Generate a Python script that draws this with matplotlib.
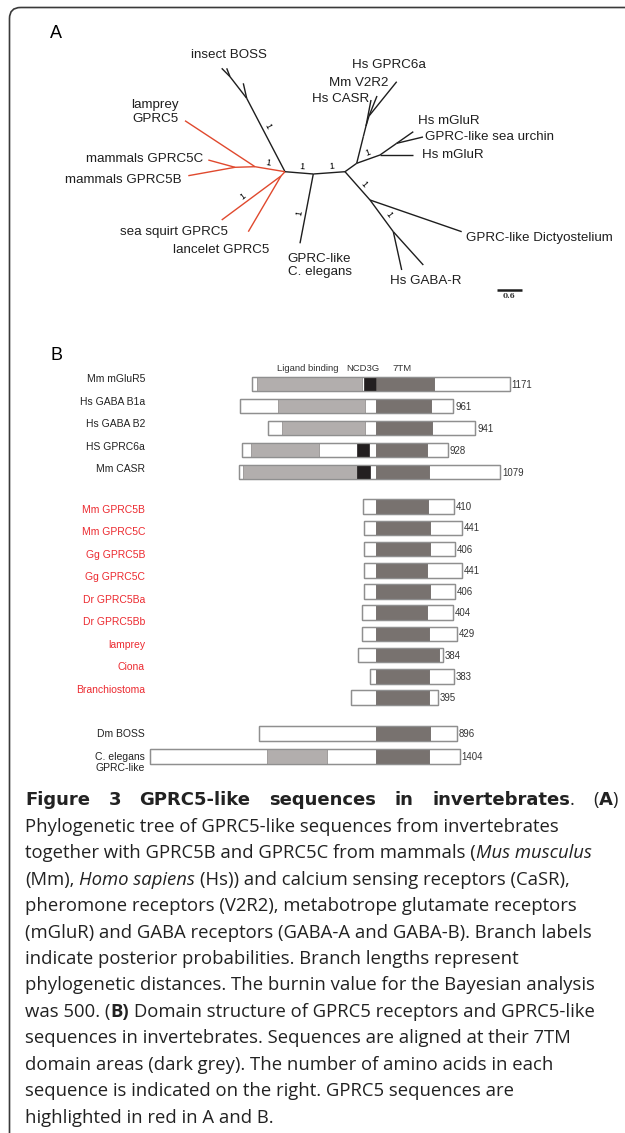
import math
import matplotlib
matplotlib.use('Agg')
import matplotlib.pyplot as plt
from matplotlib.patches import Rectangle, FancyBboxPatch

# ---------------- panel A : phylogenetic tree ----------------
# node positions of the drawn (unrooted) tree, in drawing units
tree_nodes = {
    'root': (285, 171.7),
    'boss1': (246.7, 98.3), 'boss2': (230, 76.7),
    'bossA': (243.3, 83.3), 'bossB': (226.7, 68.3), 'bossC': (221.7, 68.3),
    'na': (255, 166.7), 'lamprey': (185, 120.7),
    'nm': (235, 167.3), 'm5c': (208.3, 160), 'm5b': (188.3, 175.7),
    'ns': (281, 176), 'seasq': (221.7, 220), 'lanc': (248.3, 231.7),
    'nc': (313.3, 174), 'cel': (300, 243.3),
    'nr': (345, 171.7), 'nu': (356.7, 163.3),
    'nca': (363.3, 136.7), 'ncb': (366, 126), 'casr': (371, 100),
    'ncc': (369, 116), 'v2r2': (377, 96), 'gprc6a': (396.7, 81.7),
    'nmg': (380, 155), 'nmg2': (396.7, 143.3),
    'mglu1': (413.3, 131.7), 'urchin': (423, 137), 'mglu2': (413, 155),
    'nd': (370, 200), 'dicty': (461.7, 231.7),
    'ng': (393.3, 231.7), 'gaba1': (401.7, 270), 'gaba2': (423.3, 265),
}
# (parent, child, GPRC5 branch?)
tree_edges = [
    ('root', 'boss1', False), ('boss1', 'bossA', False), ('boss1', 'boss2', False),
    ('boss2', 'bossB', False), ('boss2', 'bossC', False),
    ('root', 'na', True), ('na', 'lamprey', True), ('na', 'nm', True),
    ('nm', 'm5c', True), ('nm', 'm5b', True),
    ('root', 'ns', True), ('ns', 'seasq', True), ('ns', 'lanc', True),
    ('root', 'nc', False), ('nc', 'cel', False), ('nc', 'nr', False),
    ('nr', 'nu', False), ('nu', 'nca', False), ('nca', 'ncb', False),
    ('ncb', 'casr', False), ('ncb', 'ncc', False), ('ncc', 'v2r2', False),
    ('ncc', 'gprc6a', False),
    ('nu', 'nmg', False), ('nmg', 'nmg2', False), ('nmg2', 'mglu1', False),
    ('nmg2', 'urchin', False), ('nmg', 'mglu2', False),
    ('nr', 'nd', False), ('nd', 'dicty', False), ('nd', 'ng', False),
    ('ng', 'gaba1', False), ('ng', 'gaba2', False),
]
# branches with posterior probability labels
posterior_edges = [('root', 'boss1'), ('root', 'na'), ('root', 'nc'), ('nc', 'nr'),
                   ('ns', 'seasq'), ('nc', 'cel'), ('nu', 'nmg'), ('nr', 'nd'),
                   ('nd', 'ng')]
posterior_values = ['1'] * len(posterior_edges)
tip_labels = ['insect BOSS', 'lamprey\nGPRC5', 'mammals GPRC5C', 'mammals GPRC5B',
              'sea squirt GPRC5', 'lancelet GPRC5', 'GPRC-like\nC. elegans',
              'Hs GPRC6a', 'Mm V2R2', 'Hs CASR', 'Hs mGluR', 'GPRC-like sea urchin',
              'Hs mGluR', 'GPRC-like Dictyostelium', 'Hs GABA-R']

# ---------------- panel B : domain structure ----------------
# positions in amino acids relative to the start of the 7TM domain
seq_start = [-561, -613, -489, -604, -618,
             -55, -52, -51, -51, -51, -60, -61, -78, -25, -111,
             -528, -1021]
seq_end = [610, 353, 453, 327, 565,
           356, 391, 361, 394, 361, 353, 368, 305, 357, 285,
           370, 382]
tm_start = [0, 2, 0, 2, 0,
            2, 2, 2, 2, 2, 2, 0, 0, 2, 2,
            0, 0]
tm_end = [265, 250, 256, 235, 244,
          238, 247, 247, 235, 247, 235, 244, 288, 241, 244,
          247, 244]
ligand = [(-536, -63), (-441, -48), (-423, -48), (-566, -258), (-600, -85),
          None, None, None, None, None, None, None, None, None, None,
          None, (-491, -222)]
ncd3g = [(-52, 0), None, None, (-85, -28), (-85, -25)] + [None] * 12
aa_count = [1171, 961, 941, 928, 1079,
            410, 441, 406, 441, 406, 404, 429, 384, 383, 395,
            896, 1404]
names_top = ['Mm mGluR5', 'Hs GABA B1a', 'Hs GABA B2', 'HS GPRC6a', 'Mm CASR']
names_gprc5 = ['Mm GPRC5B', 'Mm GPRC5C', 'Gg GPRC5B', 'Gg GPRC5C', 'Dr GPRC5Ba',
               'Dr GPRC5Bb', 'lamprey', 'Ciona', 'Branchiostoma']
names_inv = ['Dm BOSS', 'C. elegans\nGPRC-like']
domain_names = ['Ligand binding', 'NCD3G', '7TM']
domain_label_pos = [-305, -55, 119]

RED_TREE = '#e0492e'
RED_TXT = '#ec2a30'
LIGHT = '#b2aead'
DARK = '#78726f'
BLACK = '#231f20'

fig = plt.figure(figsize=(6.25, 11.33), dpi=100)
ax = fig.add_axes([0, 0, 1, 1])
ax.set_xlim(0, 625)
ax.set_ylim(1133, 0)
ax.axis('off')

# frame with rounded corner
ax.add_patch(FancyBboxPatch((9.5, 7.5), 800, 1300,
                            boxstyle='round,pad=0,rounding_size=11',
                            fc='none', ec='#3a3a3a', lw=1.2))

sans = 'Liberation Sans'
ax.text(50, 33, 'A', fontsize=13, family=sans, va='center', ha='left')
ax.text(50, 355, 'B', fontsize=13, family=sans, va='center', ha='left')

# tree branches
for p, c, red in tree_edges:
    (x0, y0), (x1, y1) = tree_nodes[p], tree_nodes[c]
    ax.plot([x0, x1], [y0, y1], color=RED_TREE if red else '#1e1e1e',
            lw=1.0, solid_capstyle='butt')

# posterior probability labels, written along the branch
for (p, c), val in zip(posterior_edges, posterior_values):
    (x0, y0), (x1, y1) = tree_nodes[p], tree_nodes[c]
    dx, dy = x1 - x0, y1 - y0
    ang = math.degrees(math.atan2(-dy, dx))
    if ang > 90:
        ang -= 180
    elif ang <= -90:
        ang += 180
    nx, ny = -math.sin(math.radians(ang)), -math.cos(math.radians(ang))
    mx, my = x0 + 0.58 * dx, y0 + 0.58 * dy
    ax.text(mx + 6 * nx, my + 6 * ny, val, fontsize=6.5, family=sans,
            rotation=ang, ha='center', va='center', rotation_mode='anchor')

tip_pos = [(228.5, 54.5, 'center'), (178.5, 112, 'right'), (203, 158.5, 'right'),
           (182, 180, 'right'), (227.5, 232.5, 'right'), (269.5, 250, 'right'),
           (287.5, 265.5, 'left'), (351.5, 65.5, 'left'), (329, 82.5, 'left'),
           (311.5, 99, 'left'), (418.5, 121.5, 'left'), (425, 137.5, 'left'),
           (422.5, 155.5, 'left'), (465.5, 237.5, 'left'), (389.5, 281.5, 'left')]
for lab, (x, y, ha) in zip(tip_labels, tip_pos):
    ax.text(x, y, lab, fontsize=9.6, family=sans, ha=ha, va='center',
            color='#1e1e1e', linespacing=1.15)

# scale bar
ax.plot([496.5, 521.5], [290, 290], color='#1e1e1e', lw=1.8, solid_capstyle='butt')
ax.text(509, 296.5, '0.6', fontsize=5.2, family='DejaVu Serif', weight='bold',
        ha='center', va='center', color='#333333')

# ---------------- panel B drawing ----------------
px_per_aa = 0.2205
tm_px = 375.5
axb = fig.add_axes([0, 0, 1, 1])
axb.set_xlim(-tm_px / px_per_aa, (625 - tm_px) / px_per_aa)
axb.set_ylim(1133, 0)
axb.axis('off')

row_y = ([384 + 22 * i for i in range(5)] +
         [506.7 + 21.2 * i for i in range(10)] +
         [733.7, 756.7])
bar_h = 14.5

for i in range(len(aa_count)):
    y = row_y[i]
    s, e = seq_start[i], seq_end[i]
    axb.add_patch(Rectangle((s, y - bar_h / 2), e - s, bar_h, fc='white',
                            ec='#8f8f8f', lw=0.9))
    if ligand[i]:
        a, b = ligand[i]
        axb.add_patch(Rectangle((a, y - bar_h / 2), b - a, bar_h, fc=LIGHT,
                                ec='#8a8685', lw=0.5))
    if ncd3g[i]:
        a, b = ncd3g[i]
        axb.add_patch(Rectangle((a, y - bar_h / 2), b - a, bar_h, fc=BLACK,
                                ec=BLACK, lw=0.5))
    axb.add_patch(Rectangle((tm_start[i], y - bar_h / 2), tm_end[i] - tm_start[i],
                            bar_h, fc=DARK, ec='#5f5957', lw=0.5))
    axb.add_patch(Rectangle((s, y - bar_h / 2), e - s, bar_h, fc='none',
                            ec='#8f8f8f', lw=0.9))
    axb.text(e + 8, y + 0.5, str(aa_count[i]), fontsize=6.9, family=sans,
             ha='left', va='center', color='#333333')

for lab, xpos in zip(domain_names, domain_label_pos):
    axb.text(xpos, 368.5, lab, fontsize=6.8, family=sans, ha='center',
             va='center', color='#333333')

lab_x = 145
for i, lab in enumerate(names_top):
    ax.text(lab_x, 379.5 + 22.4 * i, lab, fontsize=7.5, family=sans,
            ha='right', va='center', color='#222222')
for i, lab in enumerate(names_gprc5):
    ax.text(lab_x, 510 + 22.45 * i, lab, fontsize=7.5, family=sans,
            ha='right', va='center', color=RED_TXT)
ax.text(lab_x, 734.3, names_inv[0], fontsize=7.5, family=sans, ha='right',
        va='center', color='#222222')
ax.text(lab_x, 762.5, names_inv[1], fontsize=7.5, family=sans, ha='right',
        va='center', color='#222222', linespacing=1.05)

# ---------------- caption ----------------
cap_font = 'Open Sans'
cap_size = 13.3
title_size = 13.0
renderer = fig.canvas.get_renderer()
styles = {
    'n': dict(family=cap_font, fontsize=cap_size),
    'i': dict(family=cap_font, fontsize=cap_size, style='italic'),
    'b': dict(family=cap_font, fontsize=cap_size, weight='bold'),
    'T': dict(family='DejaVu Sans', fontsize=title_size, weight='bold'),
    't': dict(family=cap_font, fontsize=title_size),
}


def width(txt, st):
    t = ax.text(0, 0, txt, **styles[st])
    w = t.get_window_extent(renderer).width
    t.remove()
    return w


def space(st):
    return width('a a', st) - width('aa', st)


def draw_parts(x, y, parts):
    for txt, st in parts:
        if txt is None:
            x += space(st)
            continue
        ax.text(x, y, txt, va='center', ha='left', color='#222222', **styles[st])
        x += width(txt, st)
    return x


x_left, x_right = 25, 618
title_tokens = [[('Figure', 'T')], [('3', 'T')], [('GPRC5-like', 'T')],
                [('sequences', 'T')], [('in', 'T')],
                [('invertebrates', 'T'), ('.', 't')],
                [('(', 't'), ('A', 'T'), (')', 't')]]
tok_w = [sum(width(t, s) for t, s in tok) for tok in title_tokens]
gap = (x_right - x_left - sum(tok_w)) / (len(title_tokens) - 1)
x = x_left
for tok, w in zip(title_tokens, tok_w):
    draw_parts(x, 800, tok)
    x += w + gap

body = [
    [('Phylogenetic tree of GPRC5-like sequences from invertebrates', 'n')],
    [('together with GPRC5B and GPRC5C from mammals (', 'n'), ('Mus musculus', 'i')],
    [('(Mm),', 'n'), (None, 'n'), ('Homo sapiens', 'i'), (None, 'n'),
     ('(Hs)) and calcium sensing receptors (CaSR),', 'n')],
    [('pheromone receptors (V2R2), metabotrope glutamate receptors', 'n')],
    [('(mGluR) and GABA receptors (GABA-A and GABA-B). Branch labels', 'n')],
    [('indicate posterior probabilities. Branch lengths represent', 'n')],
    [('phylogenetic distances. The burnin value for the Bayesian analysis', 'n')],
    [('was 500. (', 'n'), ('B)', 'b'), (None, 'n'),
     ('Domain structure of GPRC5 receptors and GPRC5-like', 'n')],
    [('sequences in invertebrates. Sequences are aligned at their 7TM', 'n')],
    [('domain areas (dark grey). The number of amino acids in each', 'n')],
    [('sequence is indicated on the right. GPRC5 sequences are', 'n')],
    [('highlighted in red in A and B.', 'n')],
]
for k, parts in enumerate(body):
    draw_parts(x_left, 826.7 + 26.46 * k, parts)

fig.savefig('out.png', dpi=100)
